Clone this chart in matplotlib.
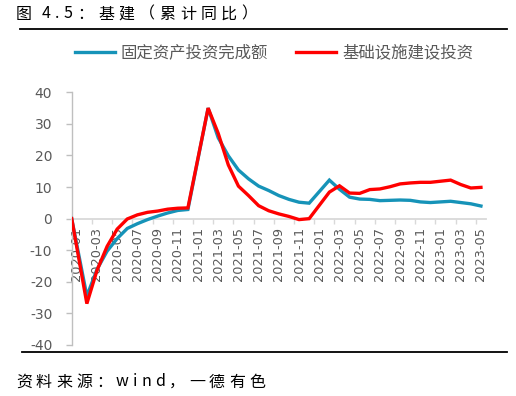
import numpy as np
import pandas as pd
import matplotlib
matplotlib.use("Agg")
import matplotlib.pyplot as plt
from matplotlib.lines import Line2D

# ---------------- data ----------------
months = (["2020-%02d" % m for m in range(1, 13)]
          + ["2021-%02d" % m for m in range(2, 13)]
          + ["2022-%02d" % m for m in range(2, 13)]
          + ["2023-%02d" % m for m in range(2, 6)])

fai = [0, -24.5, -16.1, -10.3, -6.3, -3.1, -1.6, -0.3, 0.8, 1.8, 2.6, 2.9,
       35.0, 25.6, 19.9, 15.4, 12.6, 10.3, 8.9, 7.3, 6.1, 5.2, 4.9,
       12.2, 9.3, 6.8, 6.2, 6.1, 5.7, 5.8, 5.9, 5.8, 5.3, 5.1,
       5.5, 5.1, 4.7, 4.0]
infra = [0, -26.9, -16.4, -8.8, -3.3, -0.1, 1.2, 2.0, 2.4, 3.0, 3.3, 3.4,
         35.0, 27.0, 17.0, 10.3, 7.3, 4.1, 2.5, 1.5, 0.7, -0.3, 0.0,
         8.4, 10.4, 8.1, 8.0, 9.2, 9.4, 10.1, 11.0, 11.3, 11.5, 11.5,
         12.2, 10.8, 9.7, 9.9]

series_names = ["固定资产投资完成额", "基础设施建设投资"]
series_colors = ["#1693B8", "#FF0000"]
tick_labels = list(pd.date_range("2020-01-01", "2023-05-01", freq="2MS").strftime("%Y-%m"))
y_ticks = list(range(-40, 41, 10))

title = "图 4.5：基建（累计同比）"
source = "资料来源：wind，一德有色"

# ---------------- figure ----------------
W, H = 516, 396
fig = plt.figure(figsize=(W / 100, H / 100), dpi=100)
plt.rcParams["font.family"] = ["Noto Sans CJK SC", "DejaVu Sans"]

ax = fig.add_axes([71.7 / W, 1 - 345 / H, (486 - 71.7) / W, (345 - 92.3) / H])

dt = pd.to_datetime(months)
m_idx = np.array((dt.year - 2020) * 12 + (dt.month - 1), dtype=float)
x = m_idx + 0.5
x[m_idx == 0] = 0.0  # series start at the axis origin

ax.plot(x, fai, color=series_colors[0], lw=2.4, solid_joinstyle="miter", label=series_names[0], zorder=3)
ax.plot(x, infra, color=series_colors[1], lw=2.4, solid_joinstyle="miter", label=series_names[1], zorder=4)

ax.set_xlim(0, 41)
ax.set_ylim(-40, 40)

gray_axis = "#BFBFBF"
txt_gray = "#595959"
for s in ["top", "right"]:
    ax.spines[s].set_visible(False)
ax.spines["bottom"].set_position(("data", 0))
ax.spines["bottom"].set_color("#D9D9D9")
ax.spines["bottom"].set_linewidth(1.3)
ax.spines["left"].set_color(gray_axis)
ax.spines["left"].set_linewidth(1.0)

ax.set_yticks(y_ticks)
ax.set_yticklabels([str(v) for v in y_ticks], family="DejaVu Sans")
ax.tick_params(axis="y", direction="out", length=4, width=1, color=gray_axis,
               labelsize=10, labelcolor=txt_gray, pad=10)

# month boundary ticks (every 2 months) and centered labels
ax.set_xticks(np.arange(0, 41, 2))
ax.set_xticklabels([])
ax.tick_params(axis="x", which="major", direction="out", length=3.5, width=1, color="#D9D9D9")
ax.set_xticks(np.arange(0, 41, 2) + 0.5, minor=True)
ax.set_xticklabels(tick_labels, minor=True, rotation=90, family="DejaVu Sans",
                   fontsize=9.3, color=txt_gray)
ax.tick_params(axis="x", which="minor", length=0, pad=6)
ax.patch.set_alpha(0)

# legend
fig.legend(handles=ax.get_lines(), labels=series_names, loc="center",
           bbox_to_anchor=(274 / W, 1 - 53 / H), ncol=2, frameon=False,
           fontsize=11.8, handlelength=2.45, handletextpad=0.35, columnspacing=1.7,
           labelcolor=txt_gray)

# title / source with letter spacing
renderer = fig.canvas.get_renderer()


def spaced_text(x_px, y_px, s, size, spacing):
    xx = x_px
    for ch in s:
        if ch == " ":
            xx += size * 0.45
            continue
        t = fig.text(xx / W, 1 - y_px / H, ch, fontsize=size, va="center", ha="left", color="black")
        bb = t.get_window_extent(renderer)
        xx += bb.width + spacing


spaced_text(16, 14, title, 11.5, 4.5)
spaced_text(16, 382, source, 11.5, 4.0)

fig.add_artist(Line2D([20 / W, 507 / W], [1 - 29 / H, 1 - 29 / H], color="black", lw=1.3,
                      transform=fig.transFigure))
fig.add_artist(Line2D([22 / W, 507 / W], [1 - 352 / H, 1 - 352 / H], color="black", lw=1.3,
                      transform=fig.transFigure))

fig.savefig("out.png", dpi=100)
